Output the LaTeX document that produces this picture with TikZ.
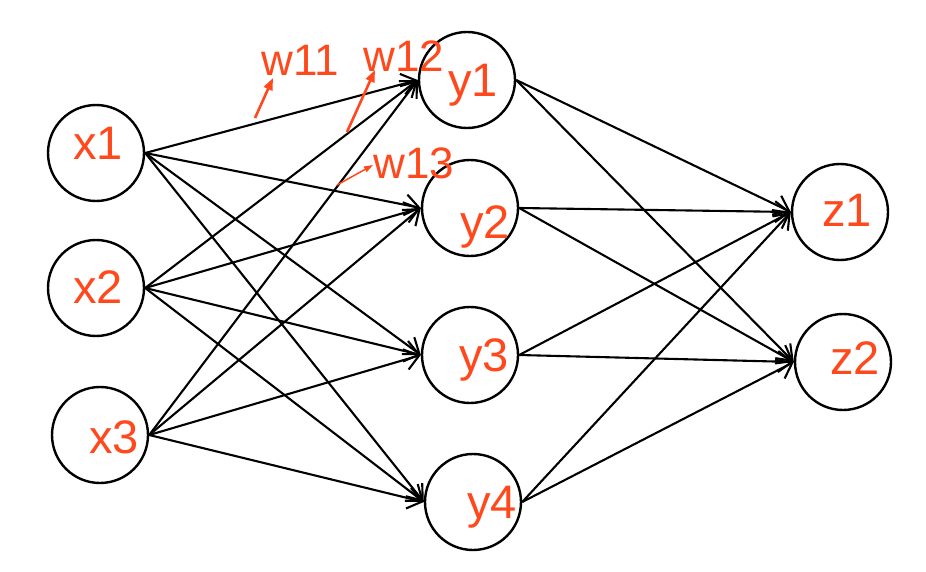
\documentclass[tikz,border=0pt]{standalone}
\usepackage{fontspec}
\setmainfont{Liberation Sans}
\usetikzlibrary{arrows.meta}
\definecolor{lbl}{RGB}{255,72,28}
\begin{document}
\begin{tikzpicture}[x=1pt,y=-1pt,
  neuron/.style={circle,draw=black,line width=2.4pt,minimum size=96pt,inner sep=0pt},
  nlabel/.style={text=lbl,font=\fontsize{47}{47}\selectfont,inner sep=0pt},
  wlabel/.style={text=lbl,font=\fontsize{44}{44}\selectfont,inner sep=0pt},
  link/.style={draw=black,line width=2.1pt,-{Straight Barb[length=14pt,width=21pt,line width=2.1pt]}},
  pointer/.style={draw=lbl,line width=2.6pt,-{Triangle[length=12pt,width=9pt]}},
  thinpointer/.style={draw=lbl,line width=1.5pt,-{Triangle[length=9pt,width=6pt]}}]
\useasboundingbox (0,0) rectangle (926,572);

% neurons
\node[neuron] (x1) at (96,153) {};
\node[neuron] (x2) at (96,288) {};
\node[neuron] (x3) at (100,435) {};
\node[neuron] (y1) at (467,80) {};
\node[neuron] (y2) at (470,208) {};
\node[neuron] (y3) at (470,355) {};
\node[neuron] (y4) at (473,502) {};
\node[neuron] (z1) at (840,212) {};
\node[neuron] (z2) at (843,362) {};

% neuron captions
\node[nlabel] (tx1) at (98,143) {x1};
\node[nlabel] (tx2) at (98,287) {x2};
\node[nlabel] (tx3) at (114,437) {x3};
\node[nlabel] (ty1) at (473,85) {y1};
\node[nlabel] (ty2) at (485,227) {y2};
\node[nlabel] (ty3) at (484,360) {y3};
\node[nlabel] (ty4) at (492,507) {y4};
\node[nlabel] (tz1) at (847,210) {z1};
\node[nlabel] (tz2) at (855,358) {z2};

% input to hidden layer
\foreach \s in {x1,x2,x3}
  \foreach \t in {y1,y2,y3,y4}
    \draw[link] (\s.east) -- (\t.west);

% hidden to output layer
\foreach \s in {y1,y2,y3,y4}
  \foreach \t in {z1,z2}
    \draw[link] (\s.east) -- (\t.west);

% weight annotations
\node[wlabel] (w11) at (300,60) {w11};
\node[wlabel] (w12) at (404,56) {w12};
\node[wlabel] (w13) at (414,163) {w13};
\coordinate (p11) at (255,118);
\coordinate (p12) at (347,132);
\coordinate (p13) at (337,185);
\coordinate (h11) at (273,78);
\coordinate (h12) at (375,70);
\coordinate (h13) at (373,165);
\draw[pointer] (p11) -- (h11);
\draw[pointer] (p12) -- (h12);
\draw[thinpointer] (p13) -- (h13);
\end{tikzpicture}
\end{document}
